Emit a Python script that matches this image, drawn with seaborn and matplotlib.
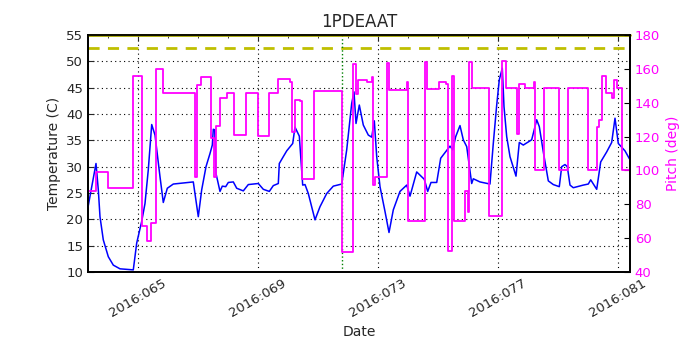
import numpy as np
import pandas as pd
import matplotlib
matplotlib.use('Agg')
import matplotlib.pyplot as plt
import seaborn as sns
from matplotlib.ticker import MultipleLocator, FixedLocator, FuncFormatter

# Temperature trace (day of year 2016, deg C)
temp_day = [63.333, 63.60, 63.677, 63.733, 63.843, 64.01, 64.177, 64.40, 64.843, 64.957,
            65.123, 65.233, 65.343, 65.457, 65.567, 65.733, 65.843, 65.977, 66.177, 66.843,
            67.01, 67.123, 67.267, 67.40, 67.477, 67.51, 67.557, 67.60, 67.733, 67.81,
            67.923, 68.01, 68.177, 68.29, 68.51, 68.677, 69.01, 69.177, 69.377, 69.51,
            69.677, 69.71, 69.843, 69.957, 70.157, 70.233, 70.377, 70.49, 70.567, 70.677,
            70.90, 71.067, 71.29, 71.51, 71.79, 71.957, 72.123, 72.20, 72.267, 72.377,
            72.51, 72.677, 72.79, 72.877, 72.957, 73.067, 73.233, 73.367, 73.51, 73.733,
            73.957, 74.067, 74.29, 74.543, 74.657, 74.767, 74.957, 75.09, 75.40, 75.49,
            75.59, 75.733, 75.843, 75.957, 76.123, 76.177, 76.40, 76.733, 76.843, 76.957,
            77.043, 77.143, 77.20, 77.29, 77.40, 77.60, 77.71, 77.843, 78.123, 78.29,
            78.377, 78.51, 78.677, 78.843, 79.043, 79.123, 79.233, 79.31, 79.40, 79.51,
            79.843, 80.01, 80.09, 80.29, 80.423, 80.623, 80.79, 80.90, 81.01, 81.123,
            81.233, 81.40]
temp_val = [22.3, 30.6, 25.6, 20.5, 16.1, 12.9, 11.3, 10.6, 10.4, 15.5,
            19.6, 23.0, 29.4, 38.0, 36.0, 28.1, 23.2, 25.9, 26.7, 27.1,
            20.5, 25.6, 30.0, 32.5, 34.1, 37.1, 37.0, 28.7, 25.3, 26.3,
            26.2, 27.0, 27.1, 25.9, 25.4, 26.6, 26.8, 25.7, 25.3, 26.4,
            26.8, 30.6, 31.9, 33.0, 34.4, 37.5, 35.8, 26.5, 26.6, 24.9,
            19.9, 22.4, 24.9, 26.3, 26.7, 33.2, 42.0, 44.2, 38.2, 41.7,
            37.9, 36.0, 35.6, 38.7, 31.9, 26.2, 21.5, 17.5, 21.8, 25.3,
            26.5, 24.4, 29.0, 27.6, 25.3, 27.0, 27.0, 31.6, 33.9, 33.2,
            35.7, 37.8, 35.1, 33.8, 26.8, 27.7, 27.1, 26.7, 34.4, 41.7,
            46.5, 48.7, 41.4, 35.7, 31.9, 28.2, 34.6, 34.1, 35.1, 38.9,
            37.6, 32.8, 27.3, 26.6, 26.2, 30.0, 30.4, 30.0, 26.5, 26.0,
            26.5, 26.7, 27.5, 25.7, 30.9, 32.8, 34.6, 39.2, 34.4, 33.7,
            33.0, 31.3]

# Pitch trace (step changes, deg)
pitch_day = [63.333, 63.60, 64.0, 64.823, 65.123, 65.29, 65.443, 65.60, 65.823, 66.90,
             66.957, 67.09, 67.433, 67.533, 67.59, 67.733, 67.957, 68.20, 68.59, 69.01,
             69.377, 69.65, 70.067, 70.143, 70.233, 70.40, 70.477, 70.877, 71.81, 72.177,
             72.257, 72.343, 72.623, 72.79, 72.843, 72.89, 73.29, 73.377, 73.957, 73.99,
             74.567, 74.643, 75.043, 75.257, 75.343, 75.457, 75.533, 75.90, 76.01, 76.033,
             76.123, 76.71, 77.143, 77.257, 77.643, 77.71, 77.90, 78.20, 78.233, 78.543,
             79.043, 79.343, 80.01, 80.29, 80.377, 80.457, 80.59, 80.80, 80.867, 80.957,
             81.123, 81.40]
pitch_val = [88.0, 99.0, 89.5, 155.7, 67.4, 58.5, 69.0, 160.0, 145.5, 96.0,
             150.4, 155.3, 119.4, 96.0, 126.0, 143.0, 146.0, 120.7, 146.0, 120.1,
             146.0, 154.0, 152.5, 122.7, 141.5, 141.0, 94.7, 147.0, 51.6, 162.6,
             145.4, 153.3, 152.5, 155.0, 91.1, 96.4, 163.2, 147.4, 152.0, 70.4,
             163.8, 148.0, 152.3, 151.0, 52.6, 155.7, 70.4, 88.1, 75.3, 164.2,
             148.4, 72.9, 164.8, 148.4, 121.7, 150.8, 148.8, 152.3, 100.4, 148.4,
             100.4, 148.4, 100.4, 125.7, 129.6, 155.7, 145.8, 142.5, 153.3, 148.4,
             100.4, 100.4]

date_ticks = [65, 69, 73, 77, 81]
caution_limit = 52.5
planning_limit = 55.0
event_day = 71.8

temp_df = pd.DataFrame({'day': temp_day, 'temp': temp_val})
pitch_df = pd.DataFrame({'day': pitch_day, 'pitch': pitch_val})

sns.set_style('white')
plt.rcParams['font.family'] = ['DejaVu Sans']

fig = plt.figure(figsize=(7, 3.5), dpi=100)
ax = fig.add_axes([0.1257, 0.2229, 0.9 - 0.1257, 0.9 - 0.2229])

sns.lineplot(data=temp_df, x='day', y='temp', ax=ax, color='blue', linewidth=1.1,
             estimator=None, sort=False, zorder=3)
ax.axhline(caution_limit, color='#bfbf00', linestyle='--', linewidth=2, dashes=(4, 3))
ax.axhline(planning_limit, color='#a8a800', linewidth=2, clip_on=False, zorder=5)
ax.axvline(event_day, color='green', linestyle=':', linewidth=1)

ax.set_xlim(63.333, 81.40)
ax.set_ylim(10, 55)
ax.xaxis.set_major_locator(FixedLocator(date_ticks))
ax.xaxis.set_minor_locator(MultipleLocator(1))
ax.xaxis.set_major_formatter(FuncFormatter(lambda v, p: '2016:%03d' % int(round(v))))
ax.yaxis.set_major_locator(MultipleLocator(5))
ax.grid(True, which='major', color='black', linestyle=(0, (1, 3)), linewidth=0.8)
ax.tick_params(which='both', direction='in', top=True, labelsize=9.5)
ax.tick_params(which='major', length=4)
ax.tick_params(which='minor', length=2)
for lab in ax.get_xticklabels():
    lab.set_rotation(30)
    lab.set_ha('center')
ax.set_xlabel('Date', fontsize=10)
ax.set_ylabel('Temperature (C)', fontsize=10)
ax.set_title('1PDEAAT', fontsize=12)

ax2 = ax.twinx()
sns.lineplot(data=pitch_df, x='day', y='pitch', ax=ax2, color='magenta', linewidth=1.3,
             estimator=None, sort=False, drawstyle='steps-post')
ax2.set_ylim(40, 180)
ax2.set_xlim(63.333, 81.40)
ax2.yaxis.set_major_locator(MultipleLocator(20))
ax2.set_ylabel('Pitch (deg)', color='magenta', fontsize=10)
ax2.tick_params(axis='y', colors='magenta', direction='in', labelsize=9.5, length=4)
ax2.tick_params(axis='y', color='black')
ax2.set_xlabel('')

for a in (ax, ax2):
    for s in a.spines.values():
        s.set_color('black')
        s.set_linewidth(1.3)

fig.savefig('out.png', dpi=100)
